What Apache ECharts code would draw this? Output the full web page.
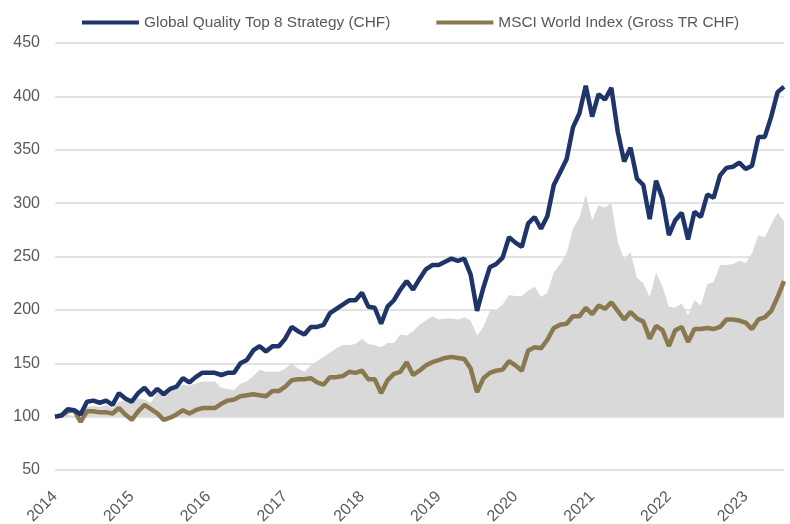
<!DOCTYPE html>
<html>
<head>
<meta charset="utf-8">
<script src="https://cdn.jsdelivr.net/npm/echarts@6/dist/echarts.min.js"></script>
<style>
  html, body { margin: 0; padding: 0; background: #fff; }
  #chart { width: 790px; height: 524px; }
</style>
</head>
<body>
<div id="chart"></div>
<script>
// year labels on the x axis (monthly points, Jan 2014 .. Jul 2023)
const years = ['2014', '2015', '2016', '2017', '2018', '2019', '2020', '2021', '2022', '2023'];

// Global Quality Top 8 Strategy (CHF)
const strategy = [
  100, 101, 107, 106, 102, 114, 115, 113, 115, 111, 122, 117,
  114, 122, 127, 120, 126, 121, 126, 128, 136, 132, 137, 141,
  141, 141, 139, 141, 141, 150, 153, 162, 166, 161, 166, 166,
  173, 184, 180, 177, 184, 184, 186, 197, 201, 205, 209, 209,
  216, 203, 202, 187, 203, 209, 219, 227, 219, 229, 238, 242,
  242, 245, 248, 246, 248, 233, 199, 221, 240, 243, 249, 268,
  263, 259, 281, 287, 276, 288, 317, 329, 341, 371, 384, 410,
  381, 402, 397, 408, 367, 339, 352, 323, 317, 285, 321, 304,
  270, 284, 291, 266, 292, 287, 308, 305, 326, 333, 334, 338,
  332, 335, 362, 362, 381, 404, 409
];

// MSCI World Index (Gross TR CHF)
const msci = [
  100, 101, 105, 106, 95, 105, 105, 104, 104, 103, 108, 102,
  97, 105, 111, 107, 103, 97, 99, 102, 106, 103, 106, 108,
  108, 108, 112, 115, 116, 119, 120, 121, 120, 119, 124, 124,
  128, 134, 135, 135, 136, 132, 130, 137, 137, 138, 142, 141,
  143, 135, 135, 122, 134, 140, 142, 151, 139, 143, 148, 151,
  153, 155, 156, 155, 154, 145, 123, 136, 141, 143, 144, 152,
  148, 143, 162, 165, 164, 172, 183, 186, 187, 194, 194, 202,
  196, 204, 201, 207, 199, 191, 198, 192, 189, 173, 185, 181,
  166, 181, 184, 170, 182, 182, 183, 182, 184, 191, 191, 190,
  188, 182, 191, 193, 199, 212, 227
];

// grey area (relative performance, base 100)
const relative = [
  100, 100, 102, 100, 107, 109, 110, 109, 111, 108, 114, 115,
  117, 117, 116, 113, 123, 124, 127, 126, 130, 129, 131, 133,
  133, 133, 127, 126, 125, 131, 133, 138, 144, 142, 142, 142,
  145, 150, 145, 142, 148, 152, 156, 160, 164, 167, 167, 168,
  173, 168, 167, 165, 169, 169, 177, 176, 180, 186, 190, 194,
  191, 192, 192, 191, 193, 190, 176, 184, 199, 200, 205, 214,
  213, 213, 218, 222, 212, 216, 235, 243, 253, 276, 286, 308,
  284, 298, 296, 300, 264, 247, 254, 230, 225, 212, 235, 222,
  203, 202, 206, 195, 209, 204, 224, 226, 242, 242, 243, 246,
  244, 253, 270, 268, 280, 291, 283
];

const months = [];
years.forEach(function (y) {
  for (let m = 1; m <= 12; m++) {
    months.push(y + '-' + (m < 10 ? '0' + m : m));
  }
});
const categories = months.slice(0, strategy.length);

const navy = '#1f3468';
const olive = '#8a784e';
const font = 'Liberation Sans, Arial, sans-serif';

const myChart = echarts.init(document.getElementById('chart'));

const option = {
  animation: false,
  backgroundColor: '#fff',
  legend: {
    data: ['Global Quality Top 8 Strategy (CHF)', 'MSCI World Index (Gross TR CHF)'],
    left: 77,
    top: 10,
    icon: 'rect',
    itemWidth: 57,
    itemHeight: 4,
    itemGap: 46,
    textStyle: { color: '#595959', fontSize: 15.4, fontFamily: font }
  },
  grid: {
    left: 55,
    right: 6,
    top: 43,
    bottom: 54,
    containLabel: false,
    outerBoundsMode: 'none'
  },
  xAxis: {
    type: 'category',
    data: categories,
    boundaryGap: false,
    axisLine: { show: false },
    axisTick: { show: false },
    splitLine: { show: false },
    axisLabel: {
      interval: function (idx, val) { return val.slice(5) === '01'; },
      formatter: function (val) { return val.slice(0, 4); },
      rotate: 45,
      margin: 24,
      color: '#595959',
      fontSize: 16,
      fontFamily: font
    }
  },
  yAxis: {
    type: 'value',
    min: 50,
    max: 450,
    interval: 50,
    axisLine: { show: false },
    axisTick: { show: false },
    splitLine: { lineStyle: { color: '#d9d9d9', width: 1.5 } },
    axisLabel: {
      margin: 15,
      color: '#595959',
      fontSize: 16,
      fontFamily: font
    }
  },
  series: [
    {
      name: 'relative',
      type: 'line',
      data: relative,
      symbol: 'none',
      lineStyle: { width: 0 },
      areaStyle: { color: '#d9d9d9', opacity: 1, origin: 100 },
      silent: true,
      z: 1
    },
    {
      name: 'Global Quality Top 8 Strategy (CHF)',
      type: 'line',
      data: strategy,
      symbol: 'none',
      itemStyle: { color: navy },
      lineStyle: { color: navy, width: 4.5 },
      z: 3
    },
    {
      name: 'MSCI World Index (Gross TR CHF)',
      type: 'line',
      data: msci,
      symbol: 'none',
      itemStyle: { color: olive },
      lineStyle: { color: olive, width: 4.5 },
      z: 2
    }
  ]
};

myChart.setOption(option);
</script>
</body>
</html>
